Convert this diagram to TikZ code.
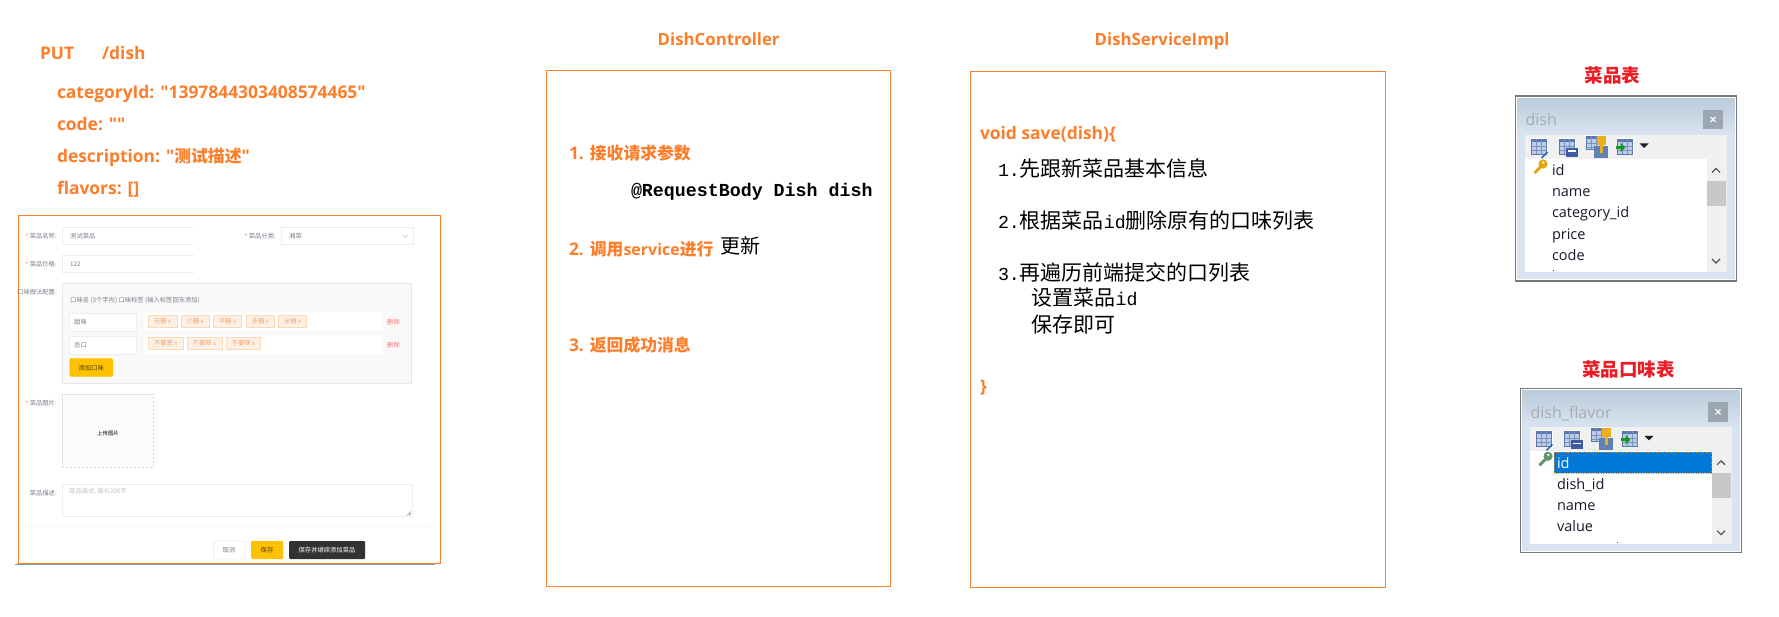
\documentclass[tikz,border=0pt]{standalone}
\usepackage{fontspec}
\setmainfont{Open Sans}
\newfontfamily\orgfont{Open Sans}
\newfontfamily\cjkf{Noto Sans CJK SC}
\newfontfamily\monof{Liberation Mono}
\newfontfamily\listf{Open Sans}
\definecolor{org}{HTML}{FD7E2A}
\definecolor{orgline}{HTML}{FB8230}
\definecolor{tagbg}{HTML}{FDF0E6}
\definecolor{tagfg}{HTML}{F5A66E}
\definecolor{fieldline}{HTML}{ECEEF2}
\definecolor{labelgrey}{HTML}{7A7F8A}
\definecolor{yel}{HTML}{FFC200}
\definecolor{yeltxt}{HTML}{463C14}
\definecolor{grline}{HTML}{969696}
\definecolor{panelbg}{HTML}{D8E4F1}
\definecolor{paneltop}{HTML}{BACAD9}
\definecolor{panelframe}{HTML}{787878}
\definecolor{tbbg}{HTML}{F0F0F0}
\definecolor{thumb}{HTML}{C8C8C8}
\definecolor{chev}{HTML}{505050}
\definecolor{closebg}{HTML}{9BA6B0}
\definecolor{iconline}{HTML}{5A78AF}
\definecolor{iconfill}{HTML}{BECDE6}
\definecolor{iconline2}{HTML}{7891C3}
\definecolor{pinblue}{HTML}{1E64B4}
\definecolor{calcblue}{HTML}{415AA0}
\definecolor{keyblue}{HTML}{5F82B4}
\definecolor{gold}{HTML}{EBAF1E}
\definecolor{keygold}{HTML}{E2A514}
\definecolor{keygreen}{HTML}{64966E}
\definecolor{arrowgreen}{HTML}{149620}
\definecolor{tri}{HTML}{1E1E1E}
\definecolor{rowc}{HTML}{19192D}
\definecolor{ttl}{HTML}{AAACB0}
\definecolor{redt}{HTML}{ED1C24}
\definecolor{selblue}{HTML}{0078D7}
\definecolor{phgrey}{HTML}{C0C4CC}
\definecolor{formline}{HTML}{FD7E2A}
\definecolor{flavbg}{HTML}{F9F9F9}
\definecolor{flavln}{HTML}{E8E8EA}
\definecolor{imgbg}{HTML}{FBFBFB}
\definecolor{imgln}{HTML}{D9D9DF}
\definecolor{chevf}{HTML}{BEC3CD}
\definecolor{resz}{HTML}{8C8C8C}
\definecolor{sep}{HTML}{F5F5F5}
\definecolor{dark}{HTML}{333333}
\definecolor{dot1}{HTML}{28283C}
\definecolor{dot2}{HTML}{962828}
\definecolor{starc}{HTML}{F58C8C}
\newcommand{\osz}[1]{{\cjkf\bfseries\fontsize{16.8}{20}\selectfont #1}}
\newcommand{\mz}[1]{{\monof\fontsize{18.3}{22}\selectfont #1}}
\newcommand{\formfont}{\cjkf\fontsize{6.3}{8}\selectfont}
\tikzset{
  txt/.style={anchor=base west,inner sep=0pt,outer sep=0pt},
  orgtxt/.style={txt,text=org,font=\orgfont\bfseries\fontsize{17.4}{20}\selectfont},
  orghead/.style={txt,text=org,font=\orgfont\bfseries\fontsize{16.8}{20}\selectfont},
  blk/.style={txt,text=black,font=\cjkf\fontsize{21}{24}\selectfont},
  redhead/.style={anchor=center,inner sep=0pt,text=redt,font=\cjkf\bfseries\fontsize{18.5}{22}\selectfont},
  orgbox/.style={draw=orgline,line width=1.2pt},
  flabel/.style={anchor=east,inner sep=0pt,text=labelgrey,font=\formfont},
  ftext/.style={anchor=west,inner sep=0pt,text=labelgrey,font=\formfont},
  fstar/.style={anchor=center,inner sep=0pt,text=starc,font=\cjkf\fontsize{7}{9}\selectfont},
  field/.style={draw=fieldline,line width=.8pt,fill=white},
  tagbox/.style={fill=tagbg,draw=tagbg!80!orange,line width=.4pt},
  tagtxt/.style={anchor=west,inner sep=0pt,text=tagfg,font=\formfont},
  deltxt/.style={anchor=west,inner sep=0pt,text=red!55!white,font=\formfont},
  btntxt/.style={anchor=center,inner sep=0pt,font=\formfont},
  rowtxt/.style={txt,text=rowc,font=\listf\fontsize{14.5}{17}\selectfont},
  tabtitle/.style={txt,text=ttl,font=\listf\fontsize{16}{19}\selectfont},
  iconblue/.style={draw=iconline,fill=iconfill,line width=.7pt},
}
\newcommand{\gridicon}[4]{% x y w h
  \fill[white] (#1-1,#2-1) rectangle ++(#3+2,#4+2);
  \draw[iconblue] (#1,#2) rectangle ++(#3,#4);
  \fill[iconline] (#1,#2) rectangle ++(#3,3);
  \draw[iconline2,line width=.5pt] (#1,#2+7) -- ++(#3,0) (#1,#2+11) -- ++(#3,0) (#1+#3/3,#2) -- ++(0,#4) (#1+2*#3/3,#2) -- ++(0,#4);
}
\newcommand{\dbpanel}[4]{% prefix, height, title, key colour
  \fill[panelbg] (0,0) rectangle (220.5,#2);
  \shade[top color=paneltop,bottom color=panelbg] (0,0) rectangle (220.5,39);
  \draw[panelframe,line width=1.2pt] (0,0) rectangle (220.5,#2);
  \draw[white,line width=.6pt] (1.2,1.2) rectangle (219.3,#2-1.2);
  \fill[tbbg] (9.5,39) rectangle (211,#2-9);
  \fill[white] (9.5,63) rectangle (191,#2-9);
  \fill[thumb] (191,85) rectangle (210,110);
  \draw[chev,line width=1.1pt] (196.5,76.5) -- (200.5,72.5) -- (204.5,76.5);
  \draw[chev,line width=1.1pt] (196.5,#2-22) -- (200.5,#2-18) -- (204.5,#2-22);
  \fill[closebg] (187.5,14) rectangle (207.5,33.5);
  \draw[white,line width=1.1pt] (195,21) -- (200,26) (200,21) -- (195,26);
  \node[tabtitle] (#1title) at (10,30) {#3};
  \gridicon{16}{43}{15}{15}
  \draw[pinblue,line width=1.4pt] (26,62) -- (32,56);
  \gridicon{44}{43}{15}{15}
  \fill[calcblue] (50,52) rectangle (62,61);
  \fill[white] (52,54.5) rectangle (60,56);
  \gridicon{71}{40}{14}{13}
  \fill[keyblue] (78,50) rectangle (92,62);
  \fill[gold] (81,40) rectangle (90,49);
  \fill[gold] (84,49) rectangle (87,57);
  \gridicon{102}{43}{15}{15}
  \fill[arrowgreen] (100,50) rectangle (106,53);
  \fill[arrowgreen] (105,47) -- (110,51.5) -- (105,56) -- cycle;
  \fill[tri] (124,47.5) -- (133,47.5) -- (128.5,52) -- cycle;
  \fill[#4] (27.5,68) circle (4.6);
  \draw[#4,line width=3pt] (26,70) -- (19,77);
  \fill[white] (27.8,66.5) circle (1.2);
}
\begin{document}
\begin{tikzpicture}[x=1pt,y=-1pt]
\useasboundingbox (0,0) rectangle (1779,617);
\fill[white] (0,0) rectangle (1779,617);

% ---------- request text
\node[orgtxt] (put) at (40,59.5) {PUT};
\node[orgtxt] (url) at (102,59.5) {/dish};
\node[orgtxt] (cat) at (57,98.7) {categoryId: "1397844303408574465"};
\node[orgtxt] (code) at (57,130.7) {code: ""};
\node[orgtxt] (desc) at (57,162.7) {description: "\osz{测试描述}"};
\node[orgtxt] (flav) at (57,194.7) {flavors: []};

% ---------- form
\draw[grline,line width=1.2pt] (15,564.6) -- (435,564.6);
\draw[formline,line width=1.2pt] (18.5,215.5) rectangle (440.5,563.2);
\draw[fieldline,line width=.8pt] (194,244) -- (62.5,244) -- (62.5,227.5) -- (194,227.5);
\draw[field] (281,227.5) rectangle (413,244.5);
\draw[fieldline,line width=.8pt] (194,272) -- (62.5,272) -- (62.5,255) -- (194,255);
\node[fstar] (s1) at (27,236.5) {*};
\node[flabel] (l1) at (57,236) {菜品名称:};
\node[ftext] (v1) at (70,236) {测试菜品};
\node[fstar] (s2) at (246,236.5) {*};
\node[flabel] (l2) at (276,236) {菜品分类:};
\node[ftext] (v2) at (289,236) {湘菜};
\draw[chevf,line width=.4pt] (403,235) -- (405.5,237.5) -- (408,235);
\node[fstar] (s3) at (27,264.5) {*};
\node[flabel] (l3) at (57,264) {菜品价格:};
\node[ftext] (v3) at (70,264) {122};
\node[flabel] (l4) at (57,292) {口味做法配置:};
\draw[fill=flavbg,draw=flavln,line width=.8pt] (62.5,283) rectangle (411.7,383.3);
\node[ftext] (hdr) at (70,300) {口味名 (3个字内) 口味标签 (输入标签回车添加)};
\draw[field] (69.5,313) rectangle (136.5,331);
\fill[white] (144,312.5) rectangle (382.5,330.5);
\draw[field] (69.5,336) rectangle (136.5,354);
\fill[white] (144,336) rectangle (382.5,354);
\node[ftext] (n1) at (74,322) {甜味};
\node[ftext] (n2) at (74,345) {忌口};
\foreach \a/\b/\t/\i in {148.3/176.7/无糖/a,181/209/少糖/b,213.3/241/半糖/c,246/273.7/多糖/d,278.3/306/全糖/e}{
  \draw[tagbox] (\a,315) rectangle (\b,327.3);
  \node[tagtxt] (tag\i) at (\a+5.5,321.5) {\t\ x};
}
\foreach \a/\b/\t/\i in {148.3/183/不要葱/a,187/221.7/不要蒜/b,226/260/不要辣/c}{
  \draw[tagbox] (\a,337) rectangle (\b,349.4);
  \node[tagtxt] (tagg\i) at (\a+5.5,343.5) {\t\ x};
}
\node[deltxt] (d1) at (387,322) {删除};
\node[deltxt] (d2) at (387,345) {删除};
\draw[fill=yel,draw=yel!80!white,line width=.4pt,rounded corners=1.5pt] (69.5,358.3) rectangle (113,376.7);
\node[btntxt,text=yeltxt] (addb) at (91.2,367.8) {添加口味};
\node[fstar] (s5) at (27,403.5) {*};
\node[flabel] (l5) at (57,403) {菜品图片:};
\draw[fill=imgbg,draw=imgln,line width=.7pt,dash pattern=on 2.5pt off 1.5pt] (62.5,394.3) rectangle (153.5,467.3);
\node[anchor=center,inner sep=0pt,text=black,font=\cjkf\fontsize{5.4}{7}\selectfont] (upl) at (108,433.5) {上传图片};
\node[flabel] (l6) at (57,493) {菜品描述:};
\draw[field] (62.5,484) rectangle (412,516.7);
\node[ftext,text=phgrey] (ph) at (69,491) {菜品描述, 最长200字};
\draw[resz,line width=.4pt] (407,515.5) -- (411,511.5) (409,515.5) -- (411,513.5);
\draw[sep,line width=.7pt] (22,526.7) -- (435,526.7);
\draw[field,rounded corners=1pt] (213.5,541) rectangle (245,559);
\node[btntxt,text=labelgrey] (cancel) at (229.2,550) {取消};
\fill[yel,rounded corners=1pt] (251,541) rectangle (283,559);
\node[btntxt,text=yeltxt] (savea) at (267,550) {保存};
\fill[dark,rounded corners=1pt] (289,541) rectangle (365,559);
\node[btntxt,text=white] (saveb) at (327,550) {保存并继续添加菜品};

% ---------- controller
\node[orghead] (ctitle) at (657.7,45.7) {DishController};
\draw[orgbox] (546.2,70.5) rectangle (890.3,586.3);
\node[orgtxt] (c1) at (569,159.3) {1. \osz{接收请求参数}};
\node[blk] (c1b) at (631,196.7) {{\monof\bfseries\fontsize{18.3}{22}\selectfont @RequestBody Dish dish}};
\node[orgtxt] (c2) at (569,255.3) {2. \osz{调用}{\fontsize{16}{20}\selectfont service}\osz{进行}};
\node[blk,font=\cjkf\fontsize{20}{24}\selectfont] (c2b) at (720,254) {更新};
\node[orgtxt] (c3) at (569,351.3) {3. \osz{返回成功消息}};

% ---------- service
\node[orghead] (stitle) at (1094.7,45.7) {DishServiceImpl};
\draw[orgbox] (970.3,71.5) rectangle (1385.7,587.3);
\node[orgtxt] (s0) at (980,139.3) {void save(dish)\{};
\node[blk] (sa) at (998,176.7) {\mz{1.}先跟新菜品基本信息};
\node[blk] (sb) at (998,228.7) {\mz{2.}根据菜品\mz{id}删除原有的口味列表};
\node[blk] (sc) at (998,280.7) {\mz{3.}再遍历前端提交的口列表};
\node[blk] (sd) at (1031.7,306) {设置菜品\mz{id}};
\node[blk] (se) at (1031.7,332) {保存即可};
\node[orgtxt] (sf) at (980,392.7) {\}};

% ---------- tables
\node[redhead] (t1) at (1612.3,75) {菜品表};
\begin{scope}[shift={(1515.5,96)}]
  \dbpanel{da}{185}{dish}{keygold}
  \node[rowtxt] (r1) at (36.5,80) {id};
  \node[rowtxt] (r2) at (36.5,101) {name};
  \node[rowtxt] (r3) at (36.5,122) {category\_id};
  \node[rowtxt] (r4) at (36.5,143.5) {price};
  \node[rowtxt] (r5) at (36.5,164.5) {code};
  \fill[dot1] (37,174) rectangle (38,175);
\end{scope}
\node[redhead] (t2) at (1628.3,369) {菜品口味表};
\begin{scope}[shift={(1520.5,388.3)}]
  \dbpanel{db}{164.4}{dish\_flavor}{keygreen}
  \fill[selblue] (33.5,63.5) rectangle (191,84.5);
  \draw[orange,line width=.5pt,dotted] (33.5,63.5) rectangle (191,84.5);
  \node[rowtxt,text=white] (q1) at (36.5,80) {id};
  \node[rowtxt] (q2) at (36.5,101) {dish\_id};
  \node[rowtxt] (q3) at (36.5,122) {name};
  \node[rowtxt] (q4) at (36.5,143) {value};
  \fill[dot2] (96,154) rectangle (97,155);
\end{scope}
\end{tikzpicture}
\end{document}
